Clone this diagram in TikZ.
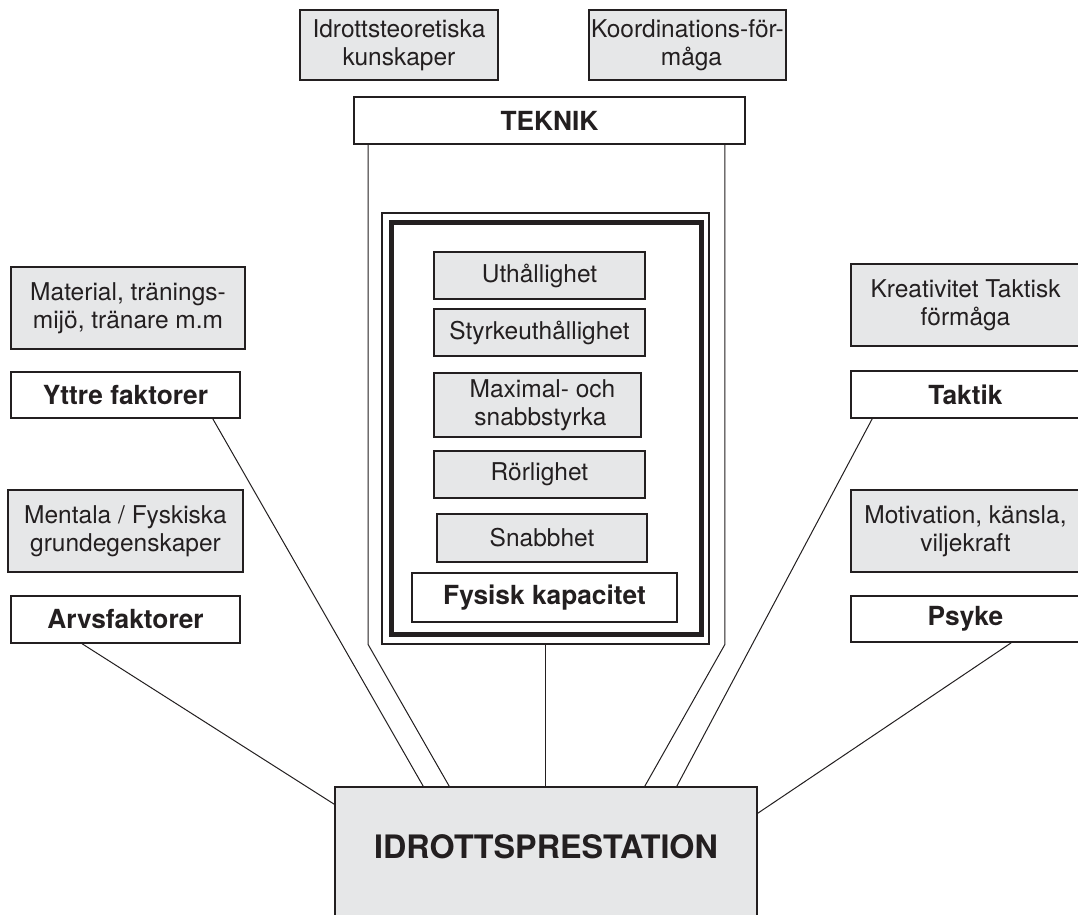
\documentclass[tikz,border=0pt]{standalone}
\usepackage{fontspec}
\setmainfont{TeX Gyre Heros}
\definecolor{boxgray}{RGB}{230,231,232}
\definecolor{ink}{RGB}{35,31,32}
\begin{document}
\begin{tikzpicture}[x=1pt,y=-1pt,
  box/.style={draw=ink, line width=1.6pt, inner sep=0pt, align=center,
    text=ink, font=\fontsize{24.5}{28.5}\selectfont},
  gbox/.style={box, fill=boxgray},
  wbox/.style={box, fill=white, font=\bfseries\fontsize{26.3}{30}\selectfont},
  conn/.style={draw=ink, line width=1pt}]
\useasboundingbox (0,0) rectangle (1078,914);
\fill[white] (0,0) rectangle (1078,914);

% top
\node[gbox, minimum width=198, minimum height=70] (idr) at (399,45) {Idrottsteoretiska\\kunskaper};
\node[gbox, minimum width=197, minimum height=70] (koord) at (687.5,45) {Koordinations-för-\\\hspace{8pt}måga};
\node[wbox, minimum width=391, minimum height=47] (teknik) at (549.5,120.5) {TEKNIK};

% centre
\node[draw=ink, line width=1.2pt, fill=white, minimum width=327, minimum height=431] (outer) at (545.5,428.5) {};
\node[draw=ink, line width=5pt, minimum width=310, minimum height=412] (thick) at (546,428) {};
\node[gbox, minimum width=211, minimum height=47] (uth) at (539.5,275.5) {Uthållighet};
\node[gbox, minimum width=211, minimum height=47] (sty) at (539.5,332.5) {Styrkeuthållighet};
\node[gbox, minimum width=207, minimum height=64] (max) at (537.5,405) {\hspace{10pt}Maximal- och\\\hspace{6pt}snabbstyrka};
\node[gbox, minimum width=211, minimum height=47] (ror) at (539.5,474.5) {Rörlighet};
\node[gbox, minimum width=210, minimum height=48] (sna) at (542,538) {Snabbhet};
\node[wbox, minimum width=265, minimum height=49] (fys) at (544.5,597.5) {Fysisk kapacitet};

% left
\node[gbox, minimum width=234, minimum height=82] (mat) at (128,308) {Material, tränings-\\mijö, tränare m.m};
\node[wbox, minimum width=229, minimum height=46] (yttre) at (125.5,395) {Yttre faktorer};
\node[gbox, minimum width=235, minimum height=82] (ment) at (125.5,531) {Mentala / Fyskiska\\grundegenskaper};
\node[wbox, minimum width=229, minimum height=47] (arvs) at (125.5,619.5) {Arvsfaktorer};

% right
\node[gbox, minimum width=229, minimum height=82] (krea) at (965.5,305) {Kreativitet Taktisk\\förmåga};
\node[wbox, minimum width=229, minimum height=47] (taktik) at (965.5,394.5) {Taktik};
\node[gbox, minimum width=229, minimum height=82] (motiv) at (965.5,531) {Motivation, känsla,\\viljekraft};
\node[wbox, minimum width=229, minimum height=46] (psyke) at (965.5,619) {Psyke};

% bottom
\node[gbox, minimum width=422, minimum height=153] (idrott) at (546,863.5) {};
\node[text=ink, font=\bfseries\fontsize{32.3}{36}\selectfont, inner sep=0pt] (idrtext) at (546,847) {IDROTTSPRESTATION};

% connectors
\coordinate (tl) at ([xshift=15pt]teknik.south west);
\coordinate (tr) at ([xshift=-21pt]teknik.south east);
\draw[conn] (tl) -- (tl |- outer.south) -- ([xshift=115pt]idrott.north west);
\draw[conn] (tr) -- (tr |- outer.south) -- ([xshift=-113pt]idrott.north east);
\draw[conn] (outer.south) -- (outer.south |- idrott.north);
\draw[conn] ([xshift=-28pt]yttre.south east) -- ([xshift=89pt]idrott.north west);
\draw[conn] ([xshift=72pt]arvs.south west) -- ([yshift=-18pt]idrott.north west);
\draw[conn] ([xshift=22pt]taktik.south west) -- ([xshift=-81pt]idrott.north east);
\draw[conn] ([xshift=161pt]psyke.south west) -- ([yshift=-27pt]idrott.north east);
\end{tikzpicture}
\end{document}
